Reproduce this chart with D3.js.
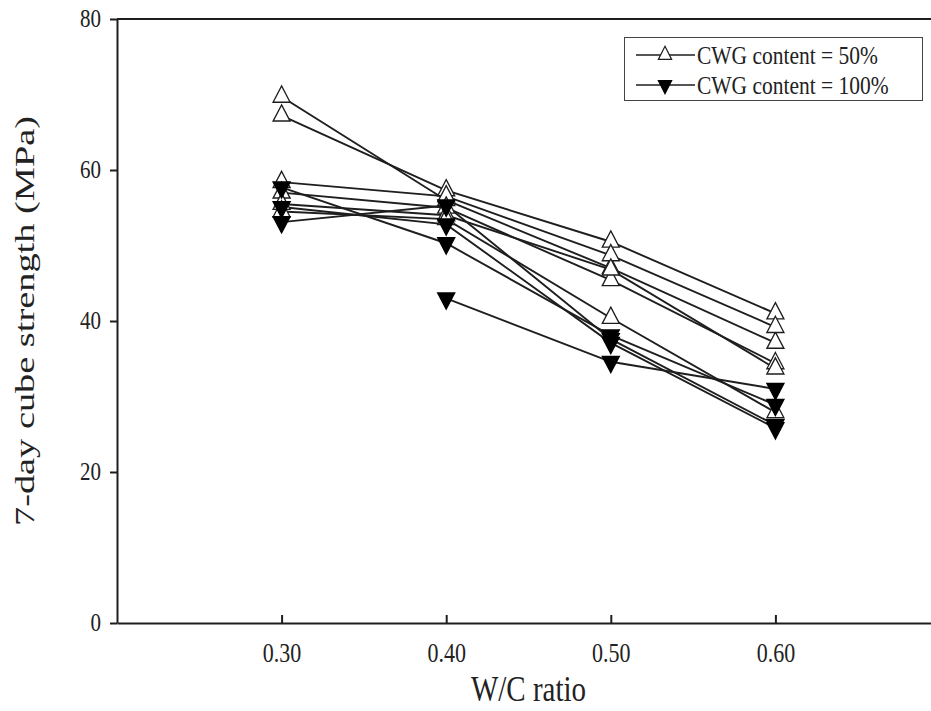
<!DOCTYPE html>
<html>
<head>
<meta charset="utf-8">
<script src="https://cdn.jsdelivr.net/npm/d3@7"></script>
<style>
  body { margin: 0; background: #fff; }
  svg { display: block; }
  text { font-family: "Liberation Serif", "Times New Roman", serif; fill: #222; }
</style>
</head>
<body>
<svg width="931" height="711"></svg>
<script>
// data
var wcRatio = [0.30, 0.40, 0.50, 0.60];
var xTickValues = [0.30, 0.40, 0.50, 0.60];
var yTickValues = [0, 20, 40, 60, 80];

// CWG content = 50% (open triangles), one row per mix
var cwg50 = [
  [69.7, 56.0, 47.0, 37.1],
  [67.2, 57.3, 50.5, 41.0],
  [58.4, 56.5, 48.7, 39.2],
  [57.0, 55.0, 45.4, 34.4],
  [55.5, 54.0, 46.8, 33.7],
  [54.5, 53.5, 40.4, 27.9]
];
// CWG content = 100% (filled triangles)
var cwg100 = [
  [57.7, 50.3, 38.1, 28.9],
  [55.1, 52.8, 37.1, 25.8],
  [53.1, 55.3, 37.6, 26.2],
  [null, 43.0, 34.6, 31.0]
];
var legendLabels = ["CWG content = 50%", "CWG content = 100%"];

var svg = d3.select("svg"),
    margin = {left: 117, top: 19, bottom: 623},
    plotRight = 940,
    stretch = 1.22; // the figure is a bit taller than wide, text too

var x = d3.scaleLinear().domain([0.2, 0.7]).range([margin.left, plotRight]);
var y = d3.scaleLinear().domain([0, 80]).range([margin.bottom, margin.top]);

var ink = "#1e1e1e";

// frame: left axis, bottom axis and the top line (right side is cut off)
var yAxis = svg.append("g")
    .attr("transform", "translate(" + margin.left + ",0)")
    .call(d3.axisLeft(y).tickValues(yTickValues).tickSize(7).tickSizeOuter(0).tickPadding(9));
var xAxis = svg.append("g")
    .attr("transform", "translate(0," + margin.bottom + ")")
    .call(d3.axisBottom(x).tickValues(xTickValues).tickSize(-8).tickSizeOuter(0).tickFormat(d3.format(".2f")));

[yAxis, xAxis].forEach(function(a) {
  a.select(".domain").attr("stroke", ink).attr("stroke-width", 2);
  a.selectAll(".tick line").attr("stroke", ink).attr("stroke-width", 2);
  a.selectAll(".tick text").attr("fill", ink).style("font-family", "Liberation Serif");
});
yAxis.selectAll(".tick text")
    .style("font-size", "21px")
    .attr("dy", "0.3em")
    .attr("transform", "scale(1," + stretch + ")");
xAxis.selectAll(".tick text")
    .style("font-size", "22px")
    .attr("y", 0).attr("dy", "0.32em")
    .attr("transform", "translate(0,30) scale(1," + stretch + ")");

svg.append("line")
    .attr("x1", margin.left).attr("x2", plotRight)
    .attr("y1", margin.top).attr("y2", margin.top)
    .attr("stroke", ink).attr("stroke-width", 2);

// axis titles
svg.append("text")
    .attr("transform", "translate(" + x(0.45) + ",690) scale(1," + stretch + ")")
    .attr("text-anchor", "middle")
    .attr("dy", "0.32em")
    .style("font-size", "29px")
    .text("W/C ratio");

svg.append("text")
    .attr("transform", "translate(25," + y(40) + ") rotate(-90) scale(1.37,1)")
    .attr("text-anchor", "middle")
    .attr("dy", "0.32em")
    .style("font-size", "28px")
    .text("7-day cube strength (MPa)");

var line = d3.line()
    .defined(function(d) { return d != null; })
    .x(function(d, i) { return x(wcRatio[i]); })
    .y(function(d) { return y(d); });

var tri = d3.symbol().type(d3.symbolTriangle).size(125);

function drawSeries(rows) {
  rows.forEach(function(row) {
    svg.append("path")
        .attr("d", line(row))
        .attr("fill", "none")
        .attr("stroke", ink)
        .attr("stroke-width", 1.9);
  });
}

function drawMarkers(rows, filled) {
  rows.forEach(function(row) {
    row.forEach(function(v, i) {
      if (v == null) return;
      svg.append("path")
          .attr("d", tri())
          .attr("transform", "translate(" + x(wcRatio[i]) + "," + y(v) + ") scale(1,1.1)" + (filled ? " rotate(180)" : ""))
          .attr("fill", filled ? "#000" : "#fff")
          .attr("stroke", filled ? "#000" : ink)
          .attr("stroke-width", 1.3);
    });
  });
}

drawSeries(cwg50);
drawSeries(cwg100);
drawMarkers(cwg50, false);
drawMarkers(cwg100, true);

// legend
var legend = svg.append("g");
legend.append("rect")
    .attr("x", 624.5).attr("y", 37.5)
    .attr("width", 298).attr("height", 63)
    .attr("fill", "#fff").attr("stroke", "#444").attr("stroke-width", 1);

var smallTri = d3.symbol().type(d3.symbolTriangle).size(75);
legendLabels.forEach(function(label, i) {
  var ly = 55 + i * 30;
  legend.append("line")
      .attr("x1", 636).attr("x2", 695)
      .attr("y1", ly).attr("y2", ly)
      .attr("stroke", ink).attr("stroke-width", 1.5);
  legend.append("path")
      .attr("d", smallTri())
      .attr("transform", "translate(665," + ly + ") scale(1,1.15)" + (i == 1 ? " rotate(180)" : ""))
      .attr("fill", i == 1 ? "#000" : "#fff")
      .attr("stroke", i == 1 ? "#000" : ink)
      .attr("stroke-width", 1.2);
  legend.append("text")
      .attr("transform", "translate(697," + ly + ") scale(1," + stretch + ")")
      .attr("dy", "0.33em")
      .style("font-size", "21.5px")
      .text(label);
});
</script>
</body>
</html>
